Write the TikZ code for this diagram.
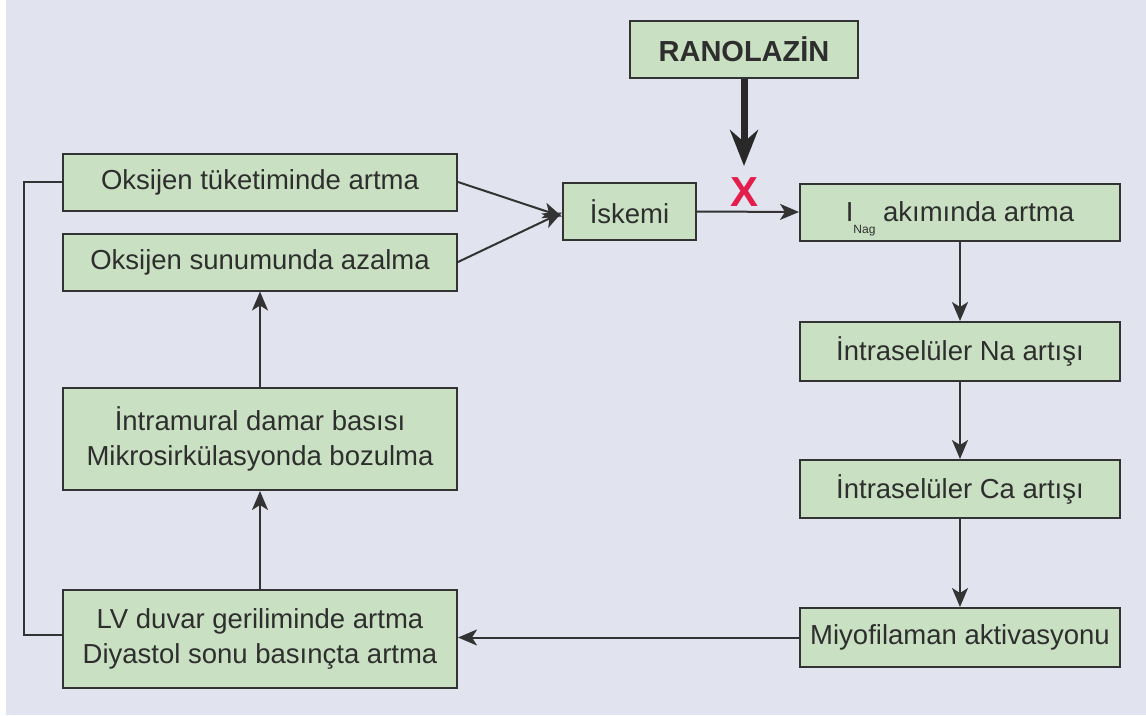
\documentclass[tikz,border=0pt]{standalone}
\usepackage{fontspec}
\setmainfont{Liberation Sans}
\usetikzlibrary{arrows.meta}
\definecolor{bgcol}{HTML}{E1E3EF}
\definecolor{boxfill}{HTML}{C9E1C2}
\definecolor{linecol}{HTML}{333333}
\definecolor{txtcol}{HTML}{2E2E2E}
\definecolor{xred}{HTML}{E41E4C}
\tikzset{
  box/.style={draw=linecol, line width=2pt, fill=boxfill, text=txtcol,
    inner sep=0pt, align=center, font=\fontsize{27.5}{35}\selectfont},
  arr/.style={draw=linecol, line width=2pt, -{Stealth[length=19pt,width=16pt,inset=5pt]}},
  link/.style={draw=linecol, line width=2pt},
  bigarr/.style={draw=linecol!80!black, line width=7pt, -{Stealth[length=36pt,width=28pt,inset=12pt]}}
}
\begin{document}
\begin{tikzpicture}[x=1pt,y=-1pt]
  % page and background
  \fill[white] (0,0) rectangle (1146,715);
  \fill[bgcol] (6,0) rectangle (1146,715);
  \useasboundingbox (0,0) rectangle (1146,715);

  % drug box
  \node[box, minimum width=228pt, minimum height=57pt,
        font=\fontsize{29}{35}\selectfont\bfseries] (ran) at (744,49.5) {RANOLAZİN};

  % ischaemia and the right-hand chain
  \node[box, minimum width=133pt, minimum height=57pt] (isk) at (629.5,211.5) {İskemi};
  \node[box, minimum width=320pt, minimum height=57pt] (ina) at (960,212)
    {I\smash{\raisebox{-12pt}{\fontsize{12}{12}\selectfont Nag}}\ akımında artma};
  \node[box, minimum width=320pt, minimum height=59pt] (na) at (960,351.5) {İntraselüler Na artışı};
  \node[box, minimum width=320pt, minimum height=58pt] (ca) at (960,489) {İntraselüler Ca artışı};
  \node[box, minimum width=320pt, minimum height=59pt] (miyo) at (960,637.5) {Miyofilaman aktivasyonu};

  % left-hand chain
  \node[box, minimum width=394pt, minimum height=57pt] (ot) at (260,182) {Oksijen tüketiminde artma};
  \node[box, minimum width=394pt, minimum height=57pt] (os) at (260,262) {Oksijen sunumunda azalma};
  \node[box, minimum width=394pt, minimum height=102pt] (intra) at (260,439)
    {İntramural damar basısı\\Mikrosirkülasyonda bozulma};
  \node[box, minimum width=394pt, minimum height=98pt] (lv) at (260,639)
    {LV duvar geriliminde artma\\Diyastol sonu basınçta artma};

  % block mark
  \node[text=xred, font=\fontsize{42}{42}\selectfont\bfseries, inner sep=0pt] (xm) at (744,192) {X};
  \coordinate (hit) at (744,166);

  % connectors
  \draw[bigarr] (ran.south) -- (hit);
  \draw[arr] (ot.east) -- ([yshift=-5pt]isk.west);
  \draw[arr] (os.east) -- ([yshift=-1pt]isk.west);
  \draw[arr] (isk.east) -- (ina.west);
  \draw[arr] (ina.south) -- (na.north);
  \draw[arr] (na.south) -- (ca.north);
  \draw[arr] (ca.south) -- (miyo.north);
  \draw[arr] (miyo.west) -- (miyo.west -| lv.east);
  \draw[arr] (lv.north) -- (intra.south);
  \draw[arr] (intra.north) -- (os.south);
  \draw[link] ([yshift=4pt]lv.west) -- ++(-38,0) |- (ot.west);
\end{tikzpicture}
\end{document}
